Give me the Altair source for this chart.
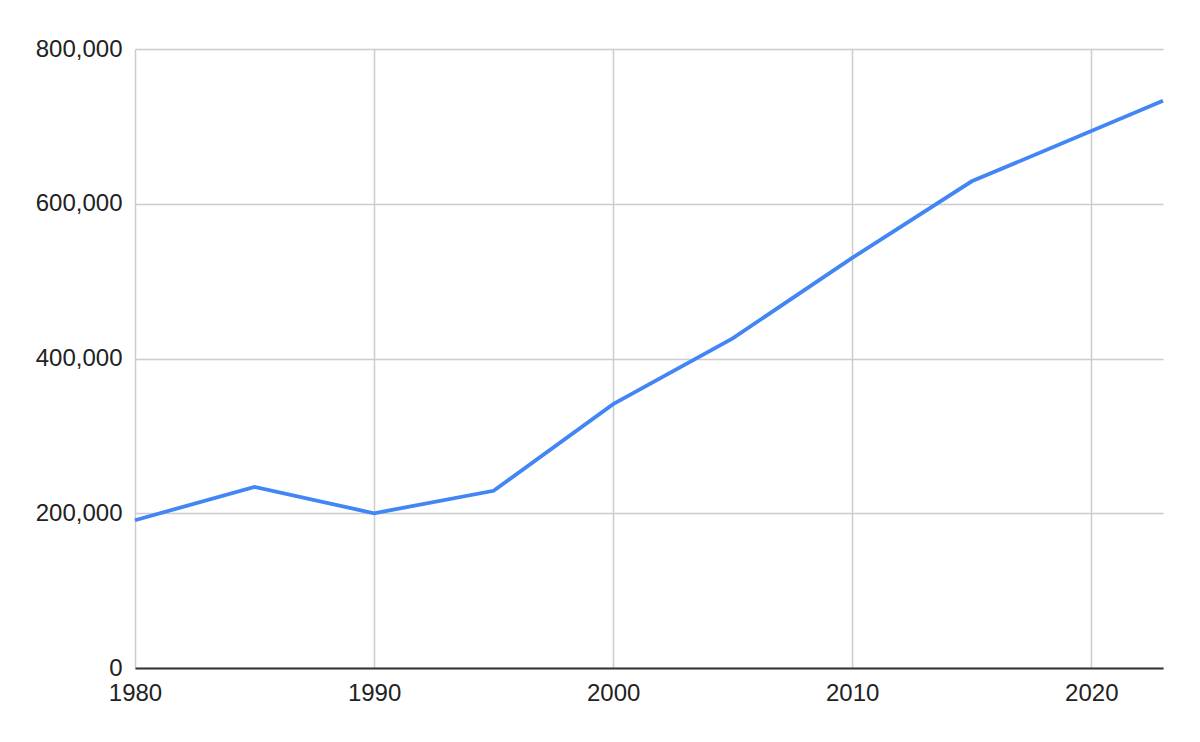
import altair as alt
import pandas as pd

years = [1980, 1985, 1990, 1995, 2000, 2005, 2010, 2015, 2023]
values = [191000, 234000, 200000, 229000, 341000, 426000, 530000, 629000, 733000]

df = pd.DataFrame({"year": years, "value": values})

font = "Liberation Sans"

chart = alt.Chart(df).mark_line(color="#4285F4", strokeWidth=3.8).encode(
    x=alt.X("year:Q",
            scale=alt.Scale(domain=[1980, 2023], nice=False, zero=False),
            axis=alt.Axis(title=None, values=[1980, 1990, 2000, 2010, 2020], format="d",
                          grid=True, gridColor="#cccccc", gridWidth=1.5,
                          domain=True, domainColor="#333333", domainWidth=2,
                          ticks=False, labelPadding=13, labelFontSize=24,
                          labelFont=font, labelColor="#222222", labelFlush=False)),
    y=alt.Y("value:Q",
            scale=alt.Scale(domain=[0, 800000], nice=False),
            axis=alt.Axis(title=None, values=[0, 200000, 400000, 600000, 800000], format=",d",
                          grid=True, gridColor="#cccccc", gridWidth=1.5,
                          domain=False, ticks=False, labelPadding=13, labelFontSize=24,
                          labelFont=font, labelColor="#222222")),
).properties(
    width=1028,
    height=619,
    autosize=alt.AutoSizeParams(type="none"),
    padding={"left": 127, "top": 41, "right": 29, "bottom": 66},
).configure_view(stroke=None)

chart.save("out.html", embed_options={"renderer": "svg", "actions": False})
